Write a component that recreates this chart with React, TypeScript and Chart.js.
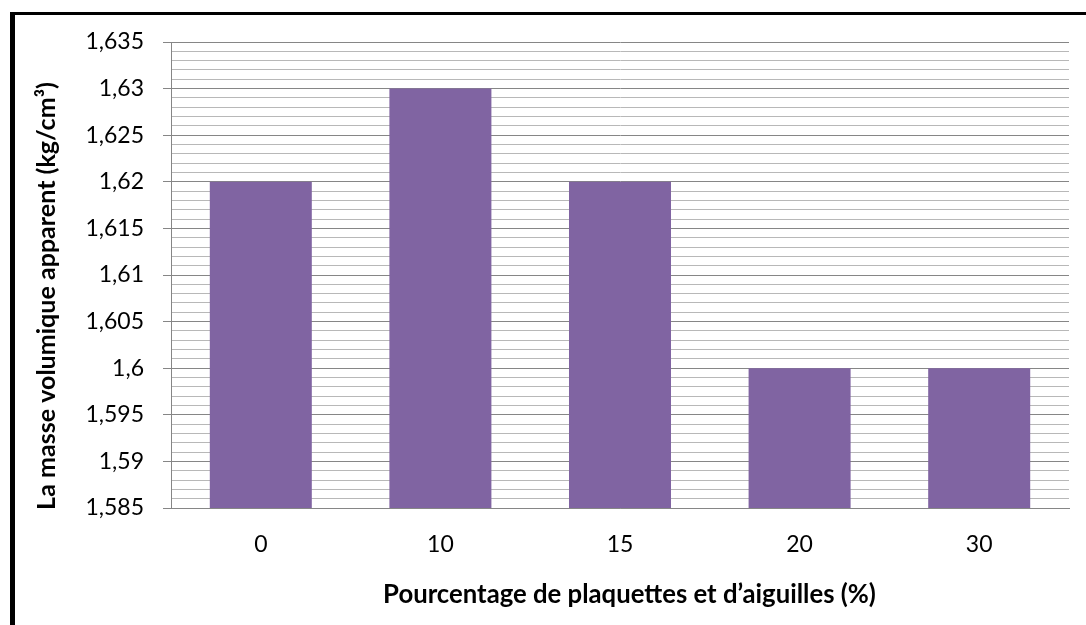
import React, { useEffect, useRef } from "react";
import { Chart, registerables } from "chart.js";

Chart.register(...registerables);

const categories = ["0", "10", "15", "20", "30"];
const values = [1.62, 1.63, 1.62, 1.6, 1.6];
const yMin = 1.585;
const yMax = 1.635;
const yMinorStep = 0.001;
const yMajorEvery = 5;
const xTitle = "Pourcentage de plaquettes et d\u2019aiguilles (%)";
const yTitle = "La masse volumique apparent (kg/cm\u00B3)";

const FONT = "Lato";

function isMajor(v: number) {
  const k = Math.round((v - yMin) / yMinorStep);
  return k % yMajorEvery === 0;
}

function fmt(v: number) {
  return String(Number(v.toFixed(3))).replace(".", ",");
}

function fitFont(ctx: CanvasRenderingContext2D, text: string, target: number) {
  ctx.font = `bold 20px ${FONT}`;
  const w = ctx.measureText(text).width;
  return (20 * target) / w;
}

const titlesPlugin = {
  id: "axisTitles",
  afterDraw(chart: any) {
    const ctx: CanvasRenderingContext2D = chart.ctx;
    ctx.save();
    ctx.fillStyle = "#000";
    let size = fitFont(ctx, xTitle, 493);
    ctx.font = `bold ${size}px ${FONT}`;
    ctx.textAlign = "center";
    ctx.textBaseline = "alphabetic";
    ctx.fillText(xTitle, 629.5, 603);
    size = fitFont(ctx, yTitle, 428);
    ctx.font = `bold ${size}px ${FONT}`;
    ctx.translate(55, 296);
    ctx.rotate(-Math.PI / 2);
    ctx.fillText(yTitle, 0, 0);
    ctx.restore();
  },
};

export default function App() {
  const ref = useRef<HTMLCanvasElement>(null);
  useEffect(() => {
    if (!ref.current) return;
    const chart = new Chart(ref.current, {
      type: "bar",
      data: {
        labels: categories,
        datasets: [
          {
            data: values,
            backgroundColor: "#8064A2",
            borderWidth: 0,
            categoryPercentage: 1,
            barPercentage: 0.568,
          },
        ],
      },
      options: {
        responsive: false,
        animation: false,
        devicePixelRatio: 1,
        layout: { padding: { left: 0, top: 42, right: 17, bottom: 0 } },
        plugins: {
          legend: { display: false },
          tooltip: { enabled: false },
        },
        scales: {
          x: {
            grid: { display: false, drawTicks: false },
            border: { display: true, color: "#868686", width: 1 },
            ticks: {
              padding: 23,
              color: "#000",
              font: { family: FONT, size: 23 },
              maxRotation: 0,
            },
            afterFit: (s: any) => {
              s.height = 117;
            },
          },
          y: {
            min: yMin,
            max: yMax,
            grid: {
              color: (c: any) => (isMajor(c.tick.value) ? "#868686" : "#B8B8B8"),
              tickColor: (c: any) => (isMajor(c.tick.value) ? "#868686" : "rgba(0,0,0,0)"),
              tickLength: 8,
              lineWidth: 1,
            },
            border: { display: true, color: "#868686", width: 1 },
            ticks: {
              stepSize: yMinorStep,
              autoSkip: false,
              padding: 19,
              color: "#000",
              font: { family: FONT, size: 23 },
              callback: (v: any) => (isMajor(Number(v)) ? fmt(Number(v)) : ""),
            },
            afterFit: (s: any) => {
              s.width = 171;
            },
          },
        },
      },
      plugins: [titlesPlugin],
    });
    return () => chart.destroy();
  }, []);

  return (
    <div>
      <div
        style={{
          position: "fixed",
          left: 10,
          top: 12,
          width: 1076,
          height: 613,
          borderLeft: "5px solid #000",
          borderTop: "3px solid #000",
          boxSizing: "border-box",
        }}
      />
      <canvas
        ref={ref}
        width={1086}
        height={625}
        style={{ position: "fixed", left: 0, top: 0, width: 1086, height: 625 }}
      />
    </div>
  );
}
